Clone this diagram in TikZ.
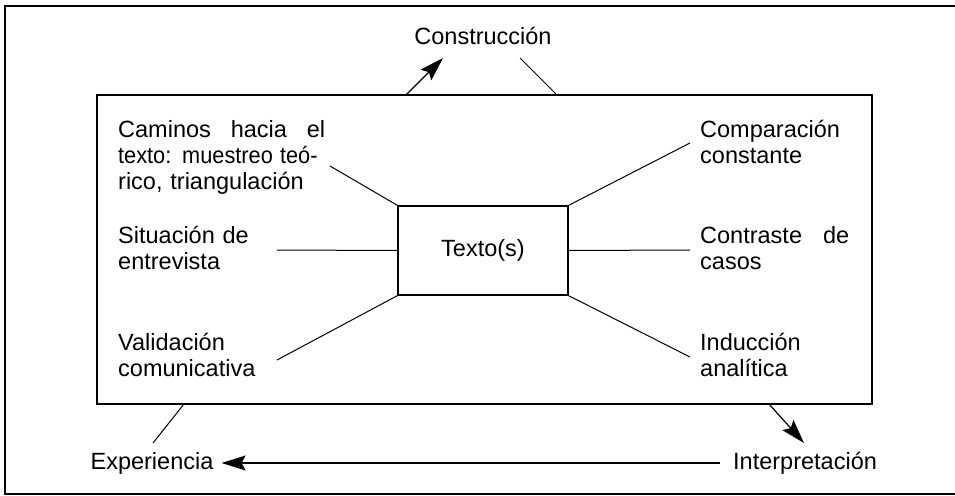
\documentclass[tikz,border=0pt]{standalone}
\usepackage{fontspec}
\usepackage{graphicx}
\setmainfont{Liberation Sans}
\usetikzlibrary{arrows.meta, positioning}
\tikzset{
  box/.style={draw, line width=1.3pt, inner sep=0pt},
  lbl/.style={anchor=base west, inner sep=0pt, text width=260pt, align=left},
  endlbl/.style={anchor=base, inner ysep=0pt, text height=17pt, text depth=5pt},
  conn/.style={line width=1pt},
  bigarrow/.style={line width=1.2pt, -{Stealth[length=24pt,width=15pt,inset=4pt]}}
}
\begin{document}
\begin{tikzpicture}[x=1pt,y=-1pt,font=\fontsize{23.5}{26}\selectfont]
        \useasboundingbox (0,0) rectangle (955,495);
        \draw[line width=1.6pt] (955,6) -- (5,6) -- (5,494) -- (955,494);
        \node[box, minimum width=775pt, minimum height=309pt] (frame) at (484.5,249.5) {};
        \node[box, minimum width=170pt, minimum height=89pt] (texto) at (483,250.5) {Texto(s)};

        \node[lbl] (caminos) at (118,137) {\hbox to 207pt{Caminos\hfill hacia\hfill el}\\\scalebox{0.925}[1]{texto: muestreo teó-}\\rico, triangulación};
        \node[lbl] (situacion) at (118,243) {Situación de\\entrevista};
        \node[lbl] (validacion) at (118,350) {Validación\\comunicativa};
        \node[lbl] (comparacion) at (700,137) {Comparación\\constante};
        \node[lbl] (contraste) at (700,243) {\hbox to 149pt{Contraste\hfill de}\\casos};
        \node[lbl] (induccion) at (700,350) {Inducción\\analítica};

        \coordinate (cCam) at (330,166);
        \coordinate (cSit) at (277,250);
        \coordinate (cVal) at (277,360);
        \coordinate (cCom) at (690,143);
        \coordinate (cCon) at (690,250);
        \coordinate (cInd) at (690,357);
        \foreach \a/\c in {north west/cCam, west/cSit, south west/cVal, north east/cCom, east/cCon, south east/cInd}{
            \draw[conn] (texto.\a) -- (\c);
        }

        \node[anchor=base] (construccion) at (483,45) {Construcción};
        \node[endlbl, inner xsep=8pt] (experiencia) at (152,469) {Experiencia};
        \node[endlbl, inner xsep=13pt, anchor=base west] (interpretacion) at (720,469) {Interpretación};

        \coordinate (k1) at (406,95);
        \coordinate (k2) at (443,58);
        \coordinate (k3) at (520,58);
        \coordinate (k4) at (557,95);
        \coordinate (i1) at (769,404);
        \coordinate (i2) at (804,443);
        \coordinate (e1) at (184,404);
        \coordinate (e2) at (153,443);
        \draw[bigarrow] (k1) -- (k2);
        \draw[conn] (k3) -- (k4);
        \draw[bigarrow] (i1) -- (i2);
        \draw[conn] (e1) -- (e2);
        \draw[bigarrow] (interpretacion.west) -- (experiencia.east);
    \end{tikzpicture}
\end{document}
